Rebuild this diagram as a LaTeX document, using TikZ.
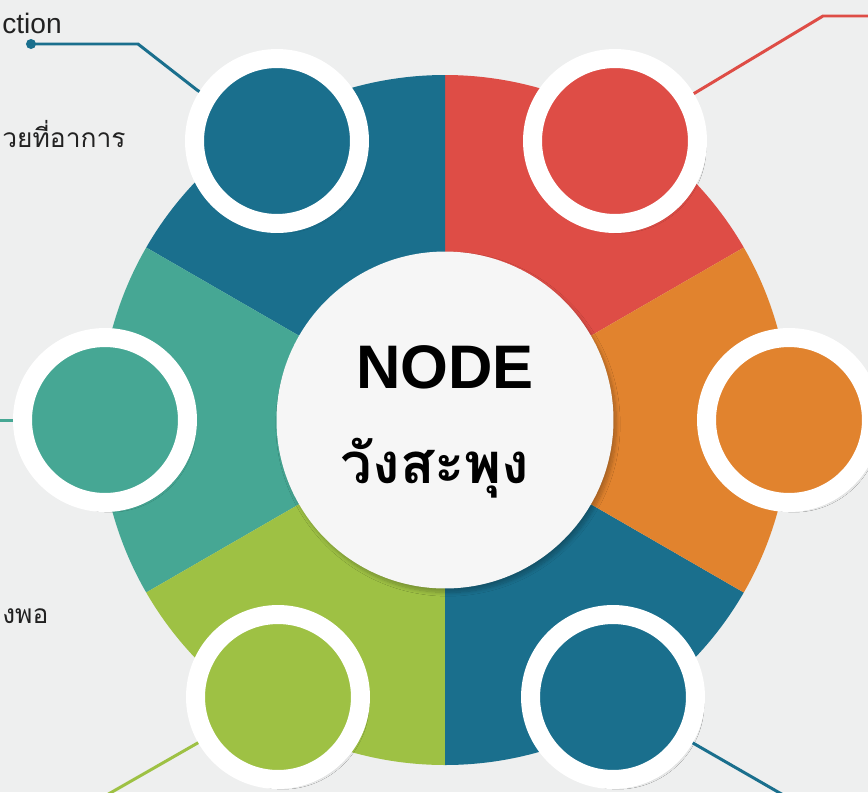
\documentclass[tikz,border=0pt]{standalone}
\usepackage{fontspec}
\setmainfont{Liberation Sans}
\newfontfamily\thaifont[Script=Thai]{Loma}
\usetikzlibrary{shadows.blur}
\definecolor{bgcol}{RGB}{238,239,239}
\definecolor{hubcol}{RGB}{246,246,246}
\definecolor{ringblue}{RGB}{26,111,141}
\definecolor{ringred}{RGB}{222,77,70}
\definecolor{ringorange}{RGB}{225,131,46}
\definecolor{ringteal}{RGB}{70,167,148}
\definecolor{ringgreen}{RGB}{158,193,68}
\definecolor{txtcol}{RGB}{34,34,34}
\begin{document}
\begin{tikzpicture}[x=0.02cm,y=0.02cm]
	\tikzstyle{bubble}=[circle,draw=white,line width=0.38cm,minimum size=3.3cm,inner sep=0pt,
		blur shadow={shadow xshift=0.1cm,shadow yshift=-0.12cm,shadow blur steps=10,shadow opacity=30}]
	\tikzstyle{lead}=[line width=1.7pt]
	\tikzstyle{side}=[font=\fontsize{16}{19}\selectfont,text=txtcol,anchor=base west,inner sep=0pt]
	\useasboundingbox (-445,-372) rectangle (423,420);
	\clip (-445,-372) rectangle (423,420);
	\fill[bgcol] (-445,-372) rectangle (423,420);
	% ring of six parts
	\foreach \a/\c in {30/ringred,90/ringblue,150/ringteal,210/ringgreen,270/ringblue,-30/ringorange}
		\fill[\c] (\a:150) arc (\a:\a+60:150) -- (\a+60:345) arc (\a+60:\a:345) -- cycle;
	\node[circle,fill=hubcol,minimum size=6.74cm,inner sep=0pt,
		blur shadow={shadow xshift=0.06cm,shadow yshift=-0.08cm,shadow blur steps=10,shadow opacity=25}] (hub) at (0,0) {};
	\node[font=\fontsize{35}{40}\selectfont\bfseries,anchor=base,inner sep=0pt] (title) at (0,32) {NODE};
	\node[font=\thaifont\fontsize{32}{38}\selectfont\bfseries,anchor=base,inner sep=0pt] (place) at (-10,-63) {วังสะพุง};
	% outer circles
	\node[bubble,fill=ringblue] (b1) at (-168,279) {};
	\node[bubble,fill=ringred] (b2) at (170,279) {};
	\node[bubble,fill=ringorange] (b3) at (344,0) {};
	\node[bubble,fill=ringteal] (b4) at (-340,0) {};
	\node[bubble,fill=ringgreen] (b5) at (-167,-277) {};
	\node[bubble,fill=ringblue] (b6) at (168,-277) {};
	% leader lines
	\coordinate (k1a) at (-248,330);
	\coordinate (k1b) at (-307,376);
	\coordinate (k1c) at (-414,376);
	\draw[lead,ringblue] (b1) -- (k1a) -- (k1b) -- (k1c);
	\fill[ringblue] (k1c) circle (5);
	\coordinate (k2a) at (378,404);
	\coordinate (k2b) at (430,404);
	\draw[lead,ringred] (b2) -- (k2a) -- (k2b);
	\coordinate (k4) at (-450,0);
	\draw[lead,ringteal] (b4) -- (k4);
	\coordinate (k5) at (-340,-376);
	\draw[lead,ringgreen] (b5) -- (k5);
	\coordinate (k6) at (340,-376);
	\draw[lead,ringblue] (b6) -- (k6);
	% texts at the edge
	\node[side] (t1) at (-443,387) {ction};
	\node[side,font=\thaifont\fontsize{15}{18}\selectfont] (t2) at (-443,273) {วยที่อาการ};
	\node[side,font=\thaifont\fontsize{15}{18}\selectfont] (t3) at (-443,-203) {งพอ};
\end{tikzpicture}
\end{document}
